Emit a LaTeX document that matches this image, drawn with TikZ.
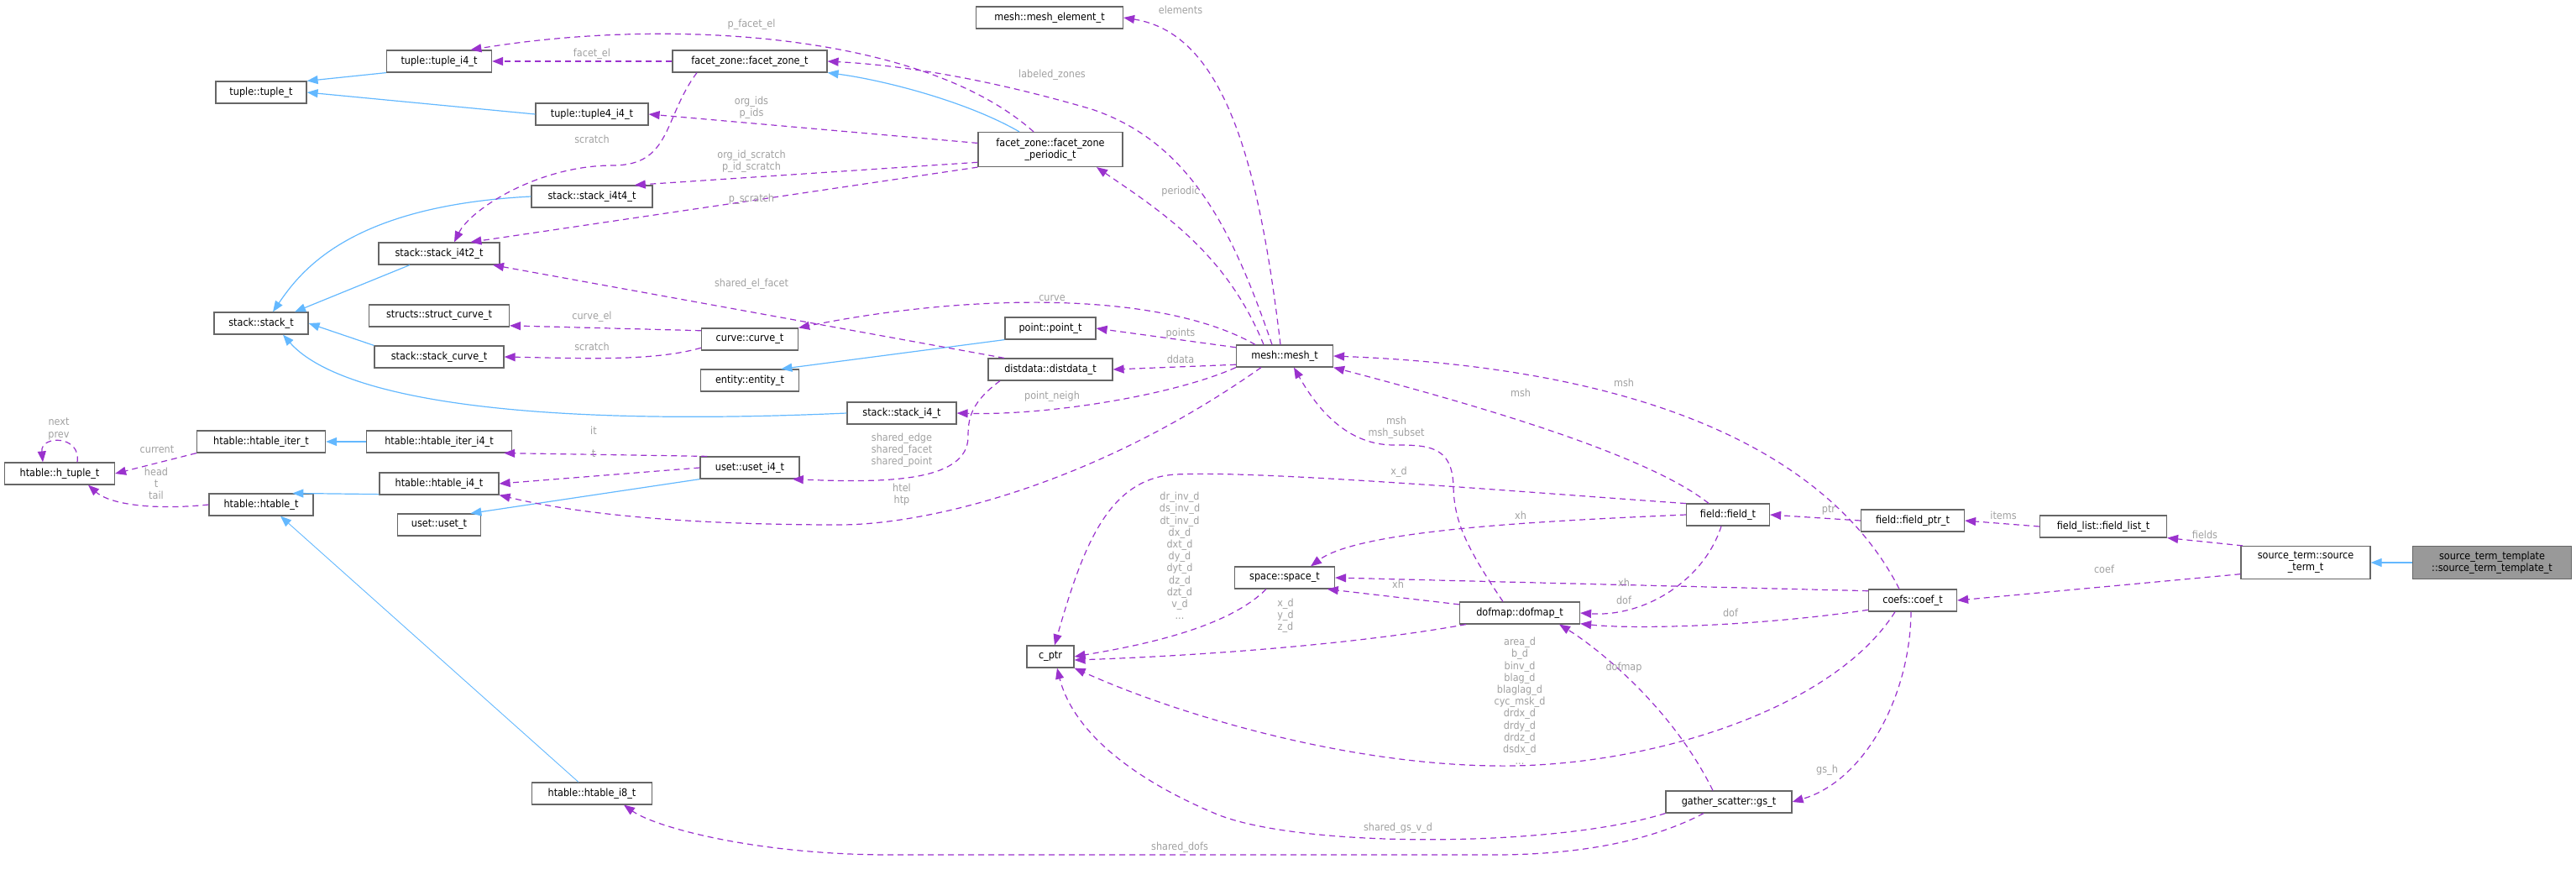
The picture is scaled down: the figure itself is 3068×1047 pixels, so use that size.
\documentclass[tikz,border=0pt]{standalone}
\usepackage{fontspec}
\setmainfont{DejaVu Sans Condensed}
\usetikzlibrary{arrows.meta}
\definecolor{dep}{HTML}{9A32CD}
\definecolor{inh}{HTML}{63B8FF}
\definecolor{lblc}{HTML}{A0A0A0}
\definecolor{bord}{HTML}{666666}
\begin{document}
\begin{tikzpicture}[x=1pt,y=-1pt,
  box/.style={draw=bord,line width=1.2pt,fill=white,font=\fontsize{12.5}{14}\selectfont,minimum height=26pt,inner xsep=2pt,inner ysep=2pt,align=center},
  dep/.style={draw=dep,line width=1.2pt,dash pattern=on 7pt off 5pt,-{Triangle[length=13pt,width=10pt]}},
  inh/.style={draw=inh,line width=1.2pt,-{Triangle[length=13pt,width=10pt]}},
  lbl/.style={text=lblc,font=\fontsize{12.5}{14.2}\selectfont,align=center,inner sep=0pt}]
\useasboundingbox (0,0) rectangle (3068,1047);
% nodes
\node[box,minimum width=125pt] (tuple_i4) at (523,73) {tuple::tuple\_i4\_t};
\node[box,minimum width=108pt] (tuple) at (311,110) {tuple::tuple\_t};
\node[box,minimum width=184pt] (fz) at (893,73) {facet\_zone::facet\_zone\_t};
\node[box,minimum width=134pt] (tuple4) at (705,136) {tuple::tuple4\_i4\_t};
\node[box,minimum width=172pt,minimum height=41pt] (per) at (1251,178) {facet\_zone::facet\_zone\\\_periodic\_t};
\node[box,minimum width=144pt] (i4t4) at (705,234) {stack::stack\_i4t4\_t};
\node[box,minimum width=144pt] (i4t2) at (523,302) {stack::stack\_i4t2\_t};
\node[box,minimum width=112pt] (stack) at (311,385) {stack::stack\_t};
\node[box,minimum width=167pt] (scurve) at (523,376) {structs::struct\_curve\_t};
\node[box,minimum width=115pt] (curve) at (893,404) {curve::curve\_t};
\node[box,minimum width=154pt] (stcurve) at (523,425) {stack::stack\_curve\_t};
\node[box,minimum width=117pt] (entity) at (893,453) {entity::entity\_t};
\node[box,minimum width=175pt] (mel) at (1250,21) {mesh::mesh\_element\_t};
\node[box,minimum width=108pt] (point) at (1251,391) {point::point\_t};
\node[box,minimum width=148pt] (dd) at (1251,440) {distdata::distdata\_t};
\node[box,minimum width=115pt] (mesh) at (1530,424) {mesh::mesh\_t};
\node[box,minimum width=130pt] (si4) at (1074,492) {stack::stack\_i4\_t};
\node[box,minimum width=56pt] (cptr) at (1251,782) {c\_ptr};
\node[box,minimum width=119pt] (space) at (1530,688) {space::space\_t};
\node[box,minimum width=143pt] (dofmap) at (1810,730) {dofmap::dofmap\_t};
\node[box,minimum width=99pt] (field) at (2058,613) {field::field\_t};
\node[box,minimum width=123pt] (fptr) at (2278,620) {field::field\_ptr\_t};
\node[box,minimum width=151pt] (flist) at (2505,627) {field\_list::field\_list\_t};
\node[box,minimum width=154pt,minimum height=39pt] (src) at (2746,670) {source\_term::source\\\_term\_t};
\node[box,minimum width=189pt,minimum height=39pt,fill={rgb,255:red,153;green,153;blue,153}] (tmpl) at (2968,670) {source\_term\_template\\::source\_term\_template\_t};
\node[box,minimum width=105pt] (coef) at (2278,715) {coefs::coef\_t};
\node[box,minimum width=150pt] (gs) at (2059,955) {gather\_scatter::gs\_t};
\node[box,minimum width=143pt] (hi8) at (705,945) {htable::htable\_i8\_t};
\node[box,minimum width=131pt] (htuple) at (71,564) {htable::h\_tuple\_t};
\node[box,minimum width=153pt] (hiter) at (311,526) {htable::htable\_iter\_t};
\node[box,minimum width=173pt] (hiteri4) at (523,526) {htable::htable\_iter\_i4\_t};
\node[box,minimum width=142pt] (hi4) at (523,576) {htable::htable\_i4\_t};
\node[box,minimum width=124pt] (ht) at (311,601) {htable::htable\_t};
\node[box,minimum width=99pt] (uset) at (523,625) {uset::uset\_t};
\node[box,minimum width=118pt] (useti4) at (893,557) {uset::uset\_i4\_t};
% inheritance
\draw[inh] (tuple_i4.south west) -- (tuple.north east);
\draw[inh] (tuple4.west) -- (tuple.east);
\draw[inh] ([xshift=-37pt]per.north) .. controls (1150,120) and (1050,95) .. (fz.south east);
\draw[inh] (i4t4.west) .. controls (420,245) and (360,320) .. ([xshift=14pt]stack.north);
\draw[inh] ([xshift=-35pt]i4t2.south) -- ([xshift=40pt]stack.north);
\draw[inh] (stcurve.north west) -- (stack.east);
\draw[inh] (si4.west) .. controls (600,510) and (400,470) .. ([xshift=26pt]stack.south);
\draw[inh] (point.south west) -- (entity.20);
\draw[inh] (hiteri4.west) -- (hiter.east);
\draw[inh] (hi4.190) -- (ht.20);
\draw[inh] (useti4.south west) -- (uset.20);
\draw[inh,line width=0.9pt] ([xshift=-16pt]hi8.north) -- ([xshift=23pt]ht.south);
\draw[inh] (tmpl.west) -- (src.east);
% dependencies
\draw[dep] (fz.west) -- (tuple_i4.east);
\draw[dep] ([xshift=-20pt]per.north) .. controls (1100,40) and (800,20) .. (tuple_i4.20);
\draw[dep] (per.175) -- (tuple4.east);
\draw[dep] (per.190) -- (i4t4.15);
\draw[dep] (per.south west) -- (i4t2.20);
\draw[dep] ([xshift=-63pt]fz.south) .. controls (790,140) and (800,197) .. (730,197) .. controls (640,197) and (560,250) .. ([xshift=18pt]i4t2.north);
\draw[dep] ([xshift=-55pt]dd.north) -- (i4t2.-12);
\draw[dep] (curve.170) -- (scurve.-8);
\draw[dep] (curve.190) .. controls (780,430) and (700,427) .. (stcurve.east);
\draw[dep] ([xshift=-5pt]mesh.north) .. controls (1500,200) and (1460,40) .. (mel.east);
\draw[dep] ([xshift=-15pt]mesh.north) .. controls (1470,280) and (1420,170) .. (1300,130) .. controls (1180,95) and (1080,78) .. (fz.east);
\draw[dep] ([xshift=-25pt]mesh.north) .. controls (1460,300) and (1380,250) .. ([xshift=55pt]per.south);
\draw[dep] ([xshift=-35pt]mesh.north) .. controls (1380,345) and (1150,350) .. (curve.north east);
\draw[dep] (mesh.170) -- (point.east);
\draw[dep] (mesh.-170) -- (dd.east);
\draw[dep] (mesh.south west) .. controls (1400,470) and (1250,495) .. (si4.east);
\draw[dep] ([xshift=-60pt]dd.south) .. controls (1155,480) and (1153,500) .. (1153,520) .. controls (1153,575) and (1050,575) .. (useti4.-15);
\draw[dep] ([xshift=-28pt]mesh.south) .. controls (1300,580) and (1100,625) .. (1000,625) .. controls (800,625) and (680,610) .. (hi4.south east);
\draw[dep] (useti4.165) -- (hiteri4.-10);
\draw[dep] (useti4.west) -- (hi4.east);
\draw[dep] (hiter.south west) -- (htuple.east);
\draw[dep] (ht.west) .. controls (180,608) and (130,600) .. ([xshift=34pt]htuple.south);
\draw[dep] ([xshift=21pt]htuple.north) .. controls (97,518) and (48,518) .. ([xshift=-20pt]htuple.north);
\draw[dep] ([xshift=-23pt]field.north) .. controls (1960,540) and (1750,480) .. (mesh.south east);
\draw[dep] ([xshift=-16pt]coef.north) .. controls (2190,560) and (2000,440) .. (mesh.east);
\draw[dep] ([xshift=-20pt]dofmap.north) .. controls (1745,650) and (1732,620) .. (1731,580) .. controls (1730,530) and (1700,530) .. (1660,530) .. controls (1600,530) and (1565,480) .. ([xshift=11pt]mesh.south);
\draw[dep] (field.165) .. controls (1800,585) and (1500,560) .. (1400,565) .. controls (1320,570) and (1290,650) .. ([xshift=5pt]cptr.north);
\draw[dep] (field.west) .. controls (1850,620) and (1620,630) .. ([xshift=31pt]space.north);
\draw[dep] (coef.168) -- (space.east);
\draw[dep] (dofmap.172) -- (space.-15);
\draw[dep] ([xshift=-8pt]field.south) .. controls (2030,690) and (1960,735) .. (dofmap.east);
\draw[dep] (coef.-168) .. controls (2100,745) and (1950,750) .. (dofmap.-10);
\draw[dep] ([xshift=-22pt]space.south) .. controls (1460,750) and (1350,770) .. (cptr.east);
\draw[dep] (dofmap.-168) .. controls (1600,770) and (1400,782) .. (cptr.-8);
\draw[dep] ([xshift=-21pt]coef.south) .. controls (2180,850) and (1950,915) .. (1780,912) .. controls (1600,910) and (1400,850) .. (cptr.south east);
\draw[dep] ([xshift=-2pt]coef.south) .. controls (2275,830) and (2220,930) .. (gs.east);
\draw[dep] ([xshift=-19pt]gs.north) .. controls (1990,840) and (1900,770) .. ([xshift=47pt]dofmap.south);
\draw[dep] (gs.south west) .. controls (1850,1010) and (1550,1010) .. (1450,970) .. controls (1330,920) and (1275,860) .. ([xshift=8pt]cptr.south);
\draw[dep] ([xshift=-30pt]gs.south) .. controls (1950,1010) and (1850,1018) .. (1780,1018) -- (1060,1018) .. controls (900,1018) and (780,985) .. ([xshift=38pt]hi8.south);
\draw[dep] (fptr.west) -- (field.east);
\draw[dep] (flist.west) -- (fptr.east);
\draw[dep] (src.165) -- (flist.south east);
\draw[dep] (src.190) -- (coef.east);
% labels
\node[lbl] (l1) at (705,64) {facet\_el};
\node[lbl] (l2) at (895,29) {p\_facet\_el};
\node[lbl] (l3) at (895,128) {org\_ids\\p\_ids};
\node[lbl] (l4) at (895,192) {org\_id\_scratch\\p\_id\_scratch};
\node[lbl] (l5) at (895,237) {p\_scratch};
\node[lbl] (l6) at (705,166) {scratch};
\node[lbl] (l7) at (895,338) {shared\_el\_facet};
\node[lbl] (l8) at (705,377) {curve\_el};
\node[lbl] (l9) at (705,413) {scratch};
\node[lbl] (l10) at (1406,12) {elements};
\node[lbl] (l11) at (1253,89) {labeled\_zones};
\node[lbl] (l12) at (1406,228) {periodic};
\node[lbl] (l13) at (1253,355) {curve};
\node[lbl] (l14) at (1406,397) {points};
\node[lbl] (l15) at (1406,428) {ddata};
\node[lbl] (l16) at (1253,472) {point\_neigh};
\node[lbl] (l17) at (1074,536) {shared\_edge\\shared\_facet\\shared\_point};
\node[lbl] (l18) at (1074,589) {htel\\htp};
\node[lbl] (l19) at (707,513) {it};
\node[lbl] (l20) at (707,540) {t};
\node[lbl] (l21) at (187,535) {current};
\node[lbl] (l22) at (186,576) {head\\t\\tail};
\node[lbl] (l23) at (70,511) {next\\prev};
\node[lbl] (l24) at (1811,468) {msh};
\node[lbl] (l25) at (1934,456) {msh};
\node[lbl] (l26) at (1663,509) {msh\\msh\_subset};
\node[lbl] (l27) at (1666,562) {x\_d};
\node[lbl] (l28) at (1811,614) {xh};
\node[lbl] (l29) at (1934,694) {xh};
\node[lbl] (l30) at (1665,696) {xh};
\node[lbl] (l31) at (1934,715) {dof};
\node[lbl] (l32) at (2061,730) {dof};
\node[lbl] (l33) at (1405,662) {dr\_inv\_d\\ds\_inv\_d\\dt\_inv\_d\\dx\_d\\dxt\_d\\dy\_d\\dyt\_d\\dz\_d\\dzt\_d\\v\_d\\...};
\node[lbl] (l34) at (1531,733) {x\_d\\y\_d\\z\_d};
\node[lbl] (l35) at (1810,835) {area\_d\\b\_d\\binv\_d\\blag\_d\\blaglag\_d\\cyc\_msk\_d\\drdx\_d\\drdy\_d\\drdz\_d\\dsdx\_d\\...};
\node[lbl] (l36) at (2176,917) {gs\_h};
\node[lbl] (l37) at (1934,795) {dofmap};
\node[lbl] (l38) at (1665,986) {shared\_gs\_v\_d};
\node[lbl] (l39) at (1405,1009) {shared\_dofs};
\node[lbl] (l40) at (2178,607) {ptr};
\node[lbl] (l41) at (2386,614) {items};
\node[lbl] (l42) at (2626,637) {fields};
\node[lbl] (l43) at (2506,678) {coef};
\end{tikzpicture}
\end{document}
